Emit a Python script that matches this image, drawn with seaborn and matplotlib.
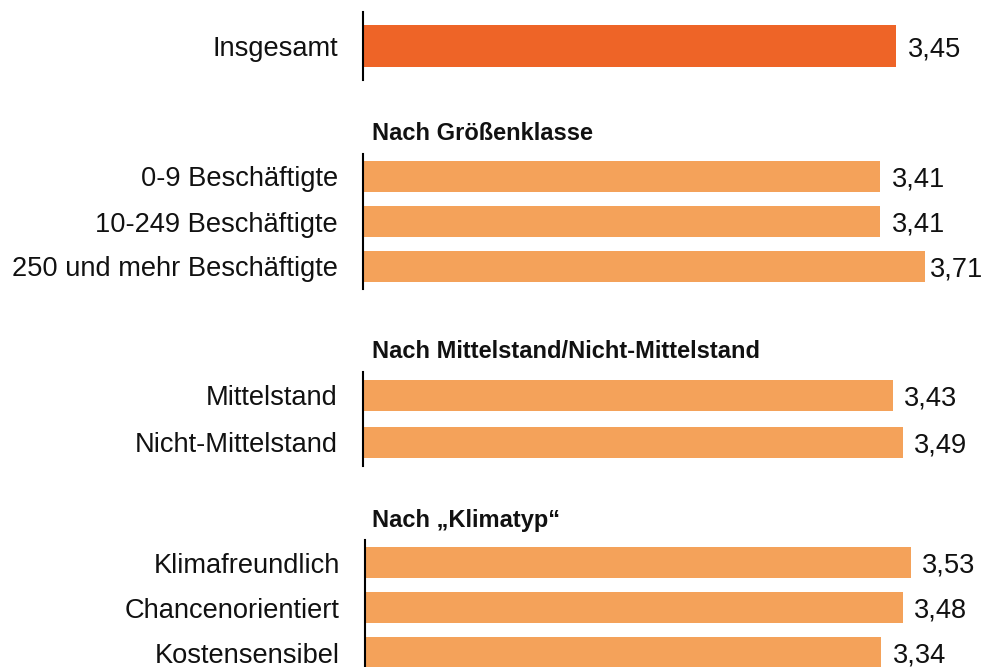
import matplotlib
matplotlib.use("Agg")
import matplotlib.pyplot as plt
import seaborn as sns
import pandas as pd

# ---- data ----
total_labels = ["Insgesamt"]
total_values = [3.45]

size_header = "Nach Größenklasse"
size_labels = ["0-9 Beschäftigte", "10-249 Beschäftigte", "250 und mehr Beschäftigte"]
size_values = [3.41, 3.41, 3.71]

mittel_header = "Nach Mittelstand/Nicht-Mittelstand"
mittel_labels = ["Mittelstand", "Nicht-Mittelstand"]
mittel_values = [3.43, 3.49]

klima_header = "Nach \u201eKlimatyp\u201c"
klima_labels = ["Klimafreundlich", "Chancenorientiert", "Kostensensibel"]
klima_values = [3.53, 3.48, 3.34]

sns.set_style("white")
plt.rcParams["font.family"] = ["Liberation Sans", "DejaVu Sans"]

W, H = 982, 667
fig = plt.figure(figsize=(W / 100, H / 100), dpi=100)
fig.patch.set_facecolor("white")

DARK = "#EE6427"
LIGHT = "#F4A25A"
AX_LEFT = 363
AX_W = 610
PX_PER_UNIT = 154.6


def make_section(top, bottom, labels, values, color, bar_h, px_unit,
                 x_left=AX_LEFT, pads=None):
    ax = fig.add_axes([x_left / W, 1 - bottom / H, AX_W / W, (bottom - top) / H])
    df = pd.DataFrame({"label": labels, "value": values})
    sns.barplot(data=df, x="value", y="label", orient="h", color=color,
                width=bar_h, ax=ax, saturation=1, edgecolor="none")
    ax.set_xlim(0, AX_W / px_unit)
    ax.set_ylim(len(labels) - 0.5, -0.5)
    ax.set_xlabel("")
    ax.set_ylabel("")
    ax.set_xticks([])
    for s in ["top", "right", "bottom"]:
        ax.spines[s].set_visible(False)
    ax.spines["left"].set_color("black")
    ax.spines["left"].set_linewidth(1.5)
    ax.tick_params(axis="y", length=0, pad=18, labelsize=19.6, colors="#111111")
    ax.patch.set_alpha(0)
    lbls = [f"{v:.2f}".replace(".", ",") for v in values]
    texts = ax.bar_label(ax.containers[0], labels=lbls, padding=8, fontsize=19.6,
                         color="#111111")
    if pads is None:
        pads = [8] * len(texts)
    for t, p in zip(texts, pads):
        t.set_clip_on(False)
        t.xyann = (p, -2.2)
    return ax


make_section(12, 80, total_labels, total_values, DARK, 0.63, PX_PER_UNIT)
make_section(154, 289, size_labels, size_values, LIGHT, 0.667, PX_PER_UNIT * 0.98,
             pads=[8.6, 8.6, 3.6])
make_section(372, 466, mittel_labels, mittel_values, LIGHT, 0.66, PX_PER_UNIT)
make_section(540, 675, klima_labels, klima_values, LIGHT, 0.667, PX_PER_UNIT, x_left=365)

for txt, y in [(size_header, 133), (mittel_header, 351), (klima_header, 521)]:
    fig.text(372 / W, 1 - y / H, txt, ha="left", va="center",
             fontsize=17, fontweight="bold", color="#111111")

fig.savefig("out.png", dpi=100)
